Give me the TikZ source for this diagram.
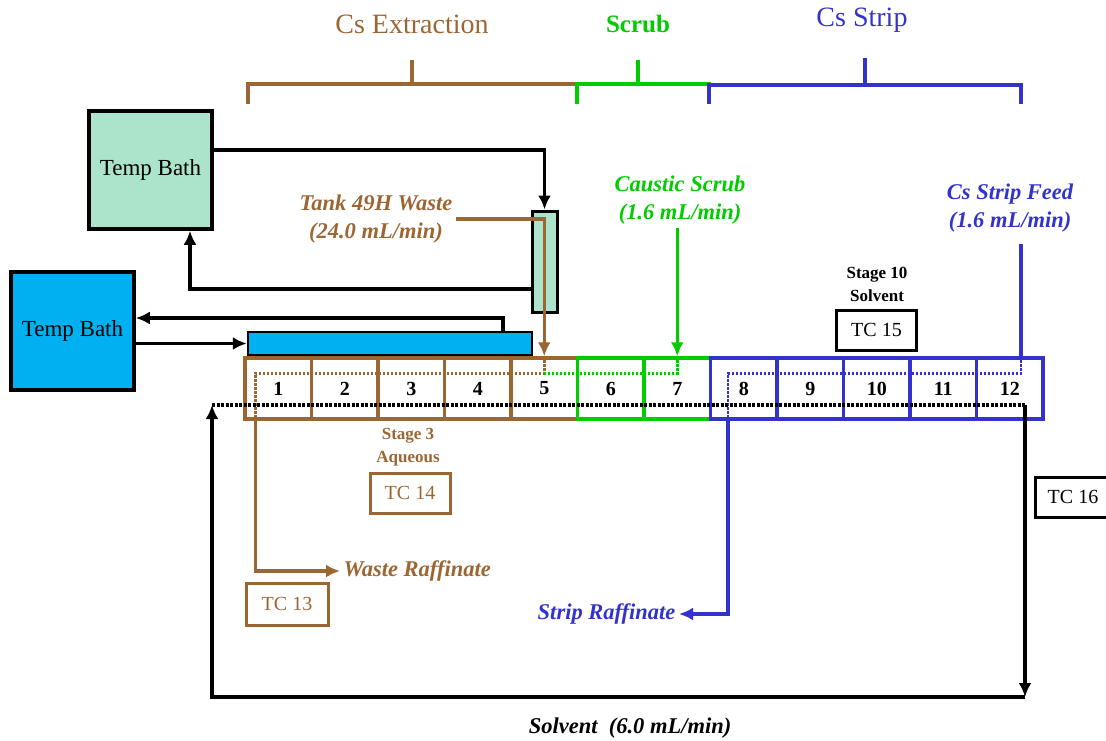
\documentclass[tikz,border=0pt]{standalone}
\usepackage{fontspec}
\setmainfont{Liberation Serif}
\usetikzlibrary{arrows.meta}
\definecolor{brn}{RGB}{156,102,51}
\definecolor{grn}{RGB}{0,204,0}
\definecolor{blu}{RGB}{51,51,204}
\definecolor{mint}{RGB}{172,227,203}
\definecolor{bathblue}{RGB}{0,176,240}
\tikzset{
  phasehead/.style={font=\fontsize{28}{30}\selectfont},
  bath/.style={draw, line width=3.5pt, minimum width=123pt, minimum height=118pt, font=\fontsize{23}{24}\selectfont},
  stage/.style={draw, line width=3.5pt, minimum width=66.5pt, minimum height=61pt, inner sep=0pt, font=\fontsize{20}{20}\selectfont\bfseries},
  tcbox/.style={draw, line width=3pt, minimum width=80pt, minimum height=40pt, font=\fontsize{20}{22}\selectfont},
  feed/.style={font=\fontsize{22.5}{28}\selectfont\bfseries\itshape, align=center},
  tclabel/.style={font=\fontsize{17}{23}\selectfont\bfseries, align=center},
  pipe/.style={line width=3.5pt},
  aqdot/.style={line width=2.5pt, dash pattern=on 2.5pt off 1.5pt},
  solvdot/.style={line width=3.5pt, dash pattern=on 3pt off 1.5pt},
}
\begin{document}
\begin{tikzpicture}[x=1pt, y=-1pt, >={Latex[length=14pt,width=13pt]}]
  \useasboundingbox (0,0) rectangle (1106,740);
  % section headings
  \node[phasehead, text=brn] (hext) at (412,24) {Cs Extraction};
  \node[phasehead, text=grn, font=\fontsize{25}{30}\selectfont\bfseries] (hscr) at (638,24) {Scrub};
  \node[phasehead, text=blu] (hstr) at (862,20) {Cs Strip};
  \draw[brn, pipe] (248,104) -- (248,84) -- (577,84) -- (577,104);
  \draw[brn, pipe] (412,84) -- (412,60);
  \draw[grn, pipe] (577,104) -- (577,84) -- (709,84) -- (709,104);
  \draw[grn, pipe] (638,84) -- (638,60);
  \draw[blu, pipe] (709,104) -- (709,85) -- (1021,85) -- (1021,104);
  \draw[blu, pipe] (865,85) -- (865,58);
  % temperature baths
  \node[bath, fill=mint] (bathA) at (150.5,170) {Temp Bath};
  \node[bath, fill=bathblue] (bathB) at (72.5,331) {Temp Bath};
  \node[draw, line width=3pt, fill=mint, minimum width=25pt, minimum height=101pt, inner sep=0pt] (coil) at (544.5,261.5) {};
  \node[draw, line width=2.5pt, fill=bathblue, minimum width=284pt, minimum height=23pt, inner sep=0pt] (bar) at (390,343.5) {};
  \draw[->, pipe] ([yshift=20pt]bathA.east) -| (coil.north);
  \draw[->, pipe] ([yshift=-27.5pt]coil.west) -| ([xshift=39.5pt]bathA.south);
  \draw[->, pipe] (bathB.east |- bar.west) -- (bar.west);
  \draw[->, pipe] ([xshift=113pt]bar.north) |- ([yshift=13pt]bathB.east);
  % contactor stages
  \node[stage, draw=brn] (s1) at (278.25,388.5) {1};
  \node[stage, draw=brn] (s2) at (344.75,388.5) {2};
  \node[stage, draw=brn] (s3) at (411.25,388.5) {3};
  \node[stage, draw=brn] (s4) at (477.75,388.5) {4};
  \node[stage, draw=brn] (s5) at (544.25,388.5) {5};
  \node[stage, draw=grn] (s6) at (610.75,388.5) {6};
  \node[stage, draw=grn] (s7) at (677.25,388.5) {7};
  \node[stage, draw=blu] (s8) at (743.75,388.5) {8};
  \node[stage, draw=blu] (s9) at (810.25,388.5) {9};
  \node[stage, draw=blu] (s10) at (876.75,388.5) {10};
  \node[stage, draw=blu] (s11) at (943.25,388.5) {11};
  \node[stage, draw=blu] (s12) at (1009.75,388.5) {12};
  \coordinate (wout) at ([xshift=-23pt]s1.south);
  \coordinate (fin) at ([xshift=11.25pt]s12.north);
  \coordinate (sout) at ([xshift=-15.75pt]s8.south);
  % feeds
  \node[feed, text=brn] (tank) at (376,219) {Tank 49H Waste\\(24.0 mL/min)};
  \node[feed, text=grn] (caus) at (680,200) {Caustic Scrub\\(1.6 mL/min)};
  \node[feed, text=blu] (csf) at (1010,208) {Cs Strip Feed\\(1.6 mL/min)};
  \draw[->, brn, pipe] (tank.east) -| (s5.north);
  \draw[->, grn, pipe] (caus.south -| s7.north) -- (s7.north);
  \draw[blu, pipe] ([yshift=-8pt]csf.south -| fin) -- (fin);
  % aqueous paths inside the stages
  \draw[brn, aqdot] (s5.north) -- ++(0,17) -| (wout);
  \draw[grn, aqdot] (s7.north) -- ++(0,17) coordinate (c7) -- (c7 -| s5.north);
  \draw[blu, aqdot] (fin) -- ++(0,17) -| (sout);
  % raffinates
  \node[feed, text=brn, anchor=west] (wraf) at (340,571) {Waste Raffinate};
  \node[feed, text=blu, anchor=east] (sraf) at (679,614) {Strip Raffinate};
  \draw[->, brn, pipe] (wout) |- (wraf.west);
  \draw[->, blu, pipe] (sout) |- (sraf.east);
  % solvent loop
  \coordinate (solin) at (212,405);
  \coordinate (solout) at (1025,405);
  \coordinate (solbot) at (1025,697);
  \draw[solvdot] (solin) -- (solout);
  \draw[->, pipe] (solout) -- (solbot);
  \draw[->, pipe] (solbot) -| (solin);
  \node[feed] (solv) at (630,728) {Solvent\ \ (6.0 mL/min)};
  % thermocouples
  \node[tclabel] (st10) at (877,284) {Stage 10\\Solvent};
  \node[tcbox] (tc15) at (876.5,330) {TC 15};
  \node[tclabel, text=brn] (st3) at (408,447) {Stage 3\\Aqueous};
  \node[tcbox, draw=brn, text=brn] (tc14) at (410,493) {TC 14};
  \node[tcbox, draw=brn, text=brn, minimum width=82pt, minimum height=42pt] (tc13) at (287,604) {TC 13};
  \node[tcbox, minimum width=76pt] (tc16) at (1073,497) {TC 16};
\end{tikzpicture}
\end{document}
